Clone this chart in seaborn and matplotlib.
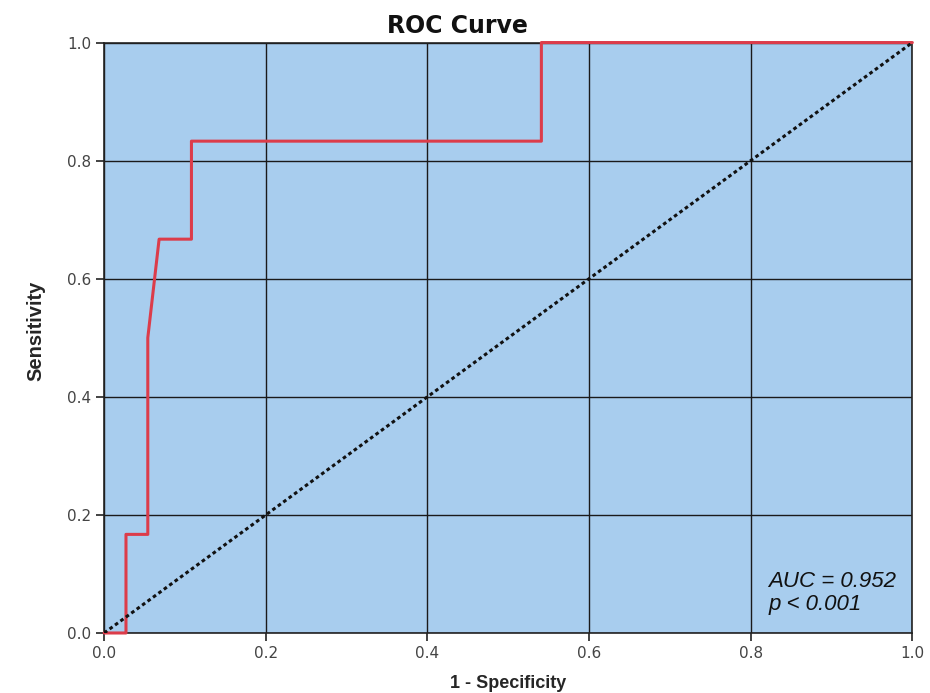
import matplotlib
matplotlib.use("Agg")
import matplotlib.pyplot as plt
import numpy as np
import pandas as pd
import seaborn as sns

# ROC curve points
fpr = [0.0, 0.027, 0.027, 0.054, 0.054, 0.068, 0.108, 0.108, 0.541, 0.541, 1.0]
tpr = [0.0, 0.0, 0.167, 0.167, 0.5, 0.667, 0.667, 0.833, 0.833, 1.0, 1.0]
ref_x = [0.0, 1.0]
ref_y = [0.0, 1.0]
ticks = [0.0, 0.2, 0.4, 0.6, 0.8, 1.0]
auc_text = "AUC = 0.952\np < 0.001"

sns.set_theme(style="white")
plt.rcParams['font.family'] = ['Liberation Sans', 'DejaVu Sans']

fig = plt.figure(figsize=(9.3, 6.93), dpi=100)
ax = fig.add_axes([0.112, 0.0866, 0.869, 0.852])
ax.set_facecolor('#a8cdee')

roc = pd.DataFrame({'fpr': fpr, 'tpr': tpr})
ax.set_axisbelow(True)
ax.grid(True, color='#1a1a1a', linewidth=1.0)
sns.lineplot(data=roc, x='fpr', y='tpr', sort=False, estimator=None,
             color='#dc3c4a', linewidth=2.2, ax=ax, zorder=3, clip_on=False)
sns.lineplot(x=ref_x, y=ref_y, color='#111111', linewidth=2.2,
             linestyle=(0, (1.2, 1.0)), ax=ax, zorder=3)

ax.set_xlim(0, 1)
ax.set_ylim(0, 1)
ax.set_xticks(ticks)
ax.set_yticks(ticks)
ax.set_xticklabels([f"{t:.1f}" for t in ticks], family='DejaVu Sans')
ax.set_yticklabels([f"{t:.1f}" for t in ticks], family='DejaVu Sans')
ax.tick_params(axis='both', direction='out', length=6, width=1.2, color='#222222',
               labelsize=11, labelcolor='#444444', bottom=True, left=True)
for s in ax.spines.values():
    s.set_color('#222222')
    s.set_linewidth(1.2)
    s.set_zorder(2.5)

fig.text(0.492, 0.962, "ROC Curve", fontsize=17, fontweight='bold',
         family='DejaVu Sans', ha='center', va='center', color='#111111')
ax.set_xlabel("1 - Specificity", fontsize=13, fontweight='bold', labelpad=10)
ax.set_ylabel("Sensitivity", fontsize=14.5, fontweight='bold', labelpad=12,
              family=['Liberation Sans Narrow', 'Liberation Sans', 'DejaVu Sans'])
ax.yaxis.set_label_coords(-0.073, 0.512)

ax.text(0.822, 0.068, auc_text, fontsize=16, style='italic', ha='left', va='center',
        color='#111111', linespacing=1.1)

fig.savefig("out.png", dpi=100)
